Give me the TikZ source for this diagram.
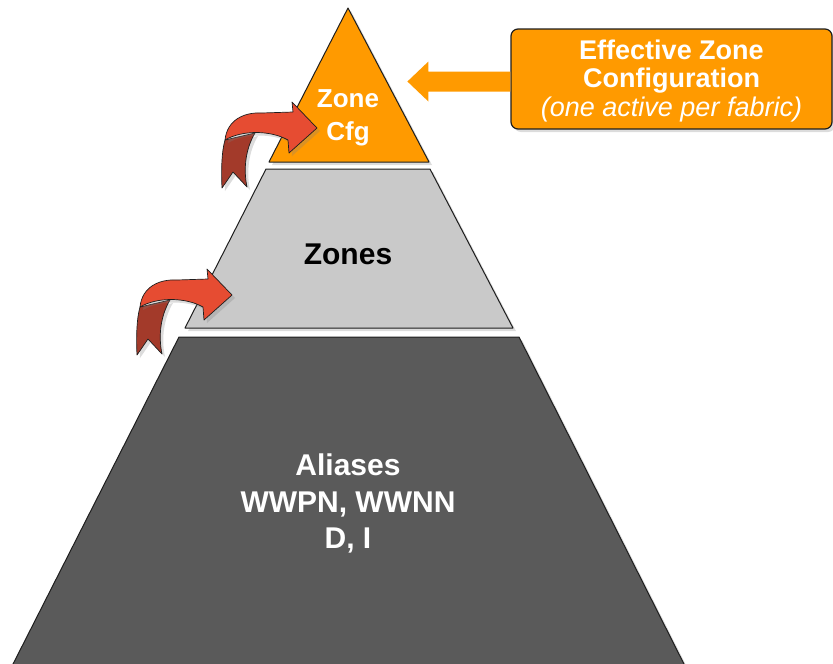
\documentclass[tikz,border=0pt]{standalone}
\usepackage{fontspec}
\setmainfont{Liberation Sans}
\usetikzlibrary{shadows,calc}

\definecolor{cfgorange}{RGB}{255,154,0}
\definecolor{zonegray}{RGB}{201,201,201}
\definecolor{aliasgray}{RGB}{90,90,90}
\definecolor{arrowred}{RGB}{230,76,50}
\definecolor{arrowdark}{RGB}{163,58,42}
\definecolor{edgeline}{RGB}{30,30,30}

\tikzset{
  softshadow/.style={drop shadow={shadow xshift=3pt, shadow yshift=-3pt, opacity=.28}},
  layer/.style={draw=edgeline, line width=1pt, line join=round, softshadow},
  tiertext/.style={align=center, inner sep=0pt},
  % curled red arrow; local origin at the left point of the notched tail
  curlarrow/.pic={
    \path[fill=arrowdark, draw=edgeline, line width=0.7pt, line join=round, softshadow]
      (0,0) .. controls (-1,-20) and (0,-38) .. (3,-48)
      -- (33,-55) .. controls (24,-40) and (21,-20) .. (25,-1)
      -- (11,-16) -- cycle;
    \path[fill=arrowred, draw=edgeline, line width=0.7pt, line join=round, softshadow]
      (3,-48) .. controls (5,-68) and (22,-76) .. (40,-75)
      -- (71,-76) -- (70,-86) -- (95,-60) -- (67,-35) -- (66,-48)
      .. controls (48,-58) and (20,-58) .. (3,-48) -- cycle;
  }
}

\begin{document}
\begin{tikzpicture}[x=1pt,y=-1pt]
\useasboundingbox (0,0) rectangle (833,664);

% pyramid tiers, bottom to top
\path[layer, fill=aliasgray] (179,337) -- (519,337) -- (687,670) -- (10,670) -- cycle;
\path[layer, fill=zonegray] (266,169) -- (430,169) -- (513,328) -- (185,328) -- cycle;
\path[layer, fill=cfgorange] (348,8) -- (429,162) -- (269,162) -- cycle;

% tier labels
\node[tiertext, text=white, font=\bfseries\fontsize{26}{33}\selectfont] (cfg) at (348,118) {Zone\\Cfg};
\node[tiertext, text=black, font=\bfseries\fontsize{30}{34}\selectfont] (zones) at (348,254) {Zones};
\node[tiertext, text=white, font=\bfseries\fontsize{30}{36.5}\selectfont] (aliases) at (348,503.5)
  {Aliases\\WWPN, WWNN\\D, I};

% effective configuration callout
\node[draw=edgeline, line width=1.2pt, fill=cfgorange, rounded corners=7pt, softshadow,
      minimum width=321pt, minimum height=100pt, inner sep=0pt] (effbox) at (671.5,79) {};
\node[tiertext, text=white, font=\fontsize{27}{28.5}\selectfont] (efftext) at (671.5,81)
  {\textbf{Effective Zone}\\\textbf{Configuration}\\\textit{(one active per fabric)}};

% block arrow from the callout to the top tier
\fill[cfgorange] ([yshift=-2.5pt]effbox.west) ++(0,-10) -- ++(-82,0) -- ++(0,-10)
  -- ++(-21,20) -- ++(21,20) -- ++(0,-10) -- ++(82,0) -- cycle;

% curled arrows between tiers
\pic at (222,188) {curlarrow};
\pic at (137,355) {curlarrow};
\end{tikzpicture}
\end{document}
